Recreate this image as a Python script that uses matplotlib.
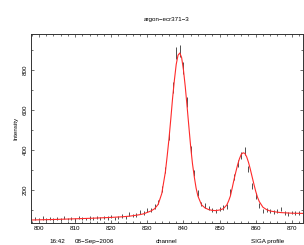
import numpy as np
import matplotlib
matplotlib.use('Agg')
import matplotlib.pyplot as plt
from matplotlib.ticker import MultipleLocator

# measured counts per channel
channels = list(range(799, 873))
counts = [58, 55, 60, 52, 56, 54, 58, 53, 62, 55,
          57, 52, 63, 58, 55, 60, 58, 64, 57, 62,
          60, 66, 58, 64, 70, 62, 80, 72, 75, 90,
          84, 98, 100, 118, 140, 205, 300, 470, 712, 885,
          897, 810, 640, 400, 285, 185, 130, 122, 108, 100,
          96, 104, 112, 118, 190, 265, 333, 372, 395, 305,
          218, 170, 122, 97, 98, 95, 90, 95, 105, 85,
          80, 88, 86, 84]

# SIGA profile fit
fit_x = [798, 800, 805, 810, 815, 820, 823, 825, 827, 828, 829, 830, 831, 832, 833,
         834, 835, 835.5, 836, 836.5, 837, 837.5, 838, 838.5, 839, 839.5, 840,
         840.5, 841, 841.5, 842, 842.5, 843, 843.5, 844, 845, 846, 847, 848, 849,
         850, 851, 852, 852.5, 853, 853.5, 854, 854.5, 855, 855.5, 856, 856.5,
         857, 857.5, 858, 858.5, 859, 859.5, 860, 860.5, 861, 862, 863, 864, 865,
         866, 867, 868, 870, 873]
fit_y = [50, 51, 53, 56, 59, 63, 66, 69, 74, 77, 81, 88, 95, 106, 128,
         182, 290, 370, 456, 555, 660, 750, 828, 874, 885, 862, 801,
         718, 620, 518, 417, 332, 266, 210, 170, 126, 110, 102, 98, 97,
         100, 106, 125, 145, 170, 210, 252, 290, 326, 356, 378, 386,
         383, 366, 339, 305, 267, 230, 194, 164, 142, 114, 102, 95, 92,
         89, 87, 86, 84, 83]

plt.rcParams['font.family'] = ['Liberation Sans', 'DejaVu Sans']
fs = 4.5
fig = plt.figure(figsize=(3.04, 2.45), dpi=100)
ax = fig.add_axes([31 / 304, 22 / 245, 272 / 304, 189 / 245])

# poisson errors on the counts
errors = np.sqrt(counts)
ax.errorbar(channels, counts, yerr=errors, fmt='none', ecolor='#333333',
            elinewidth=0.6, capsize=0)
ax.plot(fit_x, fit_y, color='#ff2a2a', lw=0.8)

ax.set_xlim(797.8, 873.1)
ax.set_ylim(35, 980)
ax.xaxis.set_major_locator(MultipleLocator(10))
ax.xaxis.set_minor_locator(MultipleLocator(2))
ax.yaxis.set_major_locator(MultipleLocator(200))
ax.yaxis.set_minor_locator(MultipleLocator(100))
ax.tick_params(which='both', direction='in', top=True, right=True,
               labelsize=fs, width=0.5, color='#333333')
ax.tick_params(which='major', length=2.5, pad=2.5)
ax.tick_params(which='minor', length=1.2)
for lab in ax.get_yticklabels():
    lab.set_rotation(90)
    lab.set_va('center')
for s in ax.spines.values():
    s.set_linewidth(0.7)
    s.set_color('#333333')

ax.set_title('argon\u2212ecr371\u22123', fontsize=fs, pad=9)
ax.set_ylabel('Intensity', fontsize=fs, labelpad=3)

fig.text(57 / 304, 1 - 241 / 245, '16:42', fontsize=fs, ha='center', va='center')
fig.text(94 / 304, 1 - 241 / 245, '08\u2212Sep\u22122006', fontsize=fs, ha='center', va='center')
fig.text(167 / 304, 1 - 241 / 245, 'channel', fontsize=fs, ha='center', va='center')
fig.text(268 / 304, 1 - 241 / 245, 'SIGA profile', fontsize=fs, ha='center', va='center')

plt.savefig('out.png', dpi=100)
plt.close()
